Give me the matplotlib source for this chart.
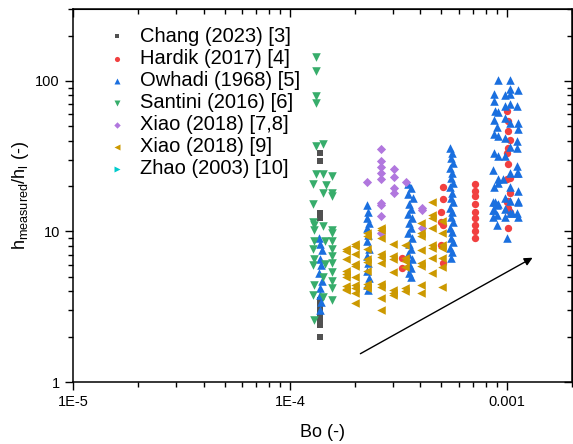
import matplotlib.pyplot as plt
from matplotlib.ticker import FixedLocator, FixedFormatter, LogLocator, NullFormatter

plt.rcParams['font.family'] = ['Liberation Sans', 'DejaVu Sans']
plt.rcParams['mathtext.fontset'] = 'custom'
plt.rcParams['mathtext.rm'] = 'Liberation Sans'

# Chang (2023) [3]
chang_x = [1.37e-4] * 11
chang_y = [33.4, 29.5, 13.2, 12.2, 3.5, 3.2, 3.0, 2.8, 2.57, 2.39, 1.98]

# Hardik (2017) [4]
hardik_x = [3.28e-4, 3.28e-4,
            5.07e-4, 5.07e-4, 5.0e-4, 5.0e-4, 5.07e-4, 5.0e-4, 5.07e-4,
            7.13e-4, 7.13e-4, 7.13e-4, 7.13e-4, 7.13e-4, 7.13e-4, 7.13e-4, 7.13e-4, 7.13e-4,
            1.0e-3, 1.01e-3, 1.01e-3, 1.03e-3, 1.01e-3, 1.0e-3, 1.01e-3, 1.03e-3, 1.03e-3,
            1.01e-3, 1.0e-3, 1.01e-3, 1.03e-3, 1.01e-3, 1.0e-3]
hardik_y = [6.7, 5.7,
            19.6, 16.3, 13.4, 11.5, 11.0, 8.1, 6.2,
            20.5, 18.7, 17.1, 15.3, 13.4, 12.2, 11.0, 10.0, 9.0,
            63.3, 54.3, 46.7, 40.6, 36.0, 33.4, 28.2, 22.8, 18.1,
            16.0, 15.6, 14.4, 13.4, 10.6, 22.4]

# Owhadi (1968) [5]
owhadi_x = [1.36e-4, 1.38e-4, 1.40e-4, 1.37e-4, 1.39e-4, 1.36e-4, 1.40e-4, 1.38e-4, 1.37e-4, 1.39e-4, 1.38e-4,
            2.27e-4, 2.30e-4, 2.27e-4, 2.32e-4, 2.28e-4, 2.30e-4, 2.26e-4, 2.31e-4, 2.28e-4, 2.30e-4,
            2.27e-4, 2.31e-4, 2.28e-4, 2.29e-4,
            3.5e-4, 3.6e-4, 3.5e-4, 3.7e-4, 3.55e-4, 3.6e-4, 3.5e-4, 3.65e-4, 3.55e-4, 3.6e-4,
            3.5e-4, 3.65e-4, 3.55e-4, 3.6e-4, 3.5e-4, 3.65e-4, 3.55e-4, 3.6e-4, 3.55e-4, 3.6e-4,
            5.5e-4, 5.6e-4, 5.55e-4, 5.65e-4, 5.5e-4, 5.6e-4, 5.55e-4, 5.65e-4, 5.5e-4, 5.6e-4,
            5.55e-4, 5.65e-4, 5.5e-4, 5.6e-4, 5.55e-4, 5.65e-4, 5.5e-4, 5.6e-4, 5.55e-4, 5.65e-4,
            5.5e-4, 5.6e-4, 5.55e-4,
            9.10e-4, 1.04e-3, 8.71e-4, 9.79e-4, 1.04e-3, 1.125e-3, 8.71e-4, 1.04e-3, 8.81e-4, 9.10e-4,
            9.79e-4, 1.04e-3, 1.11e-3, 8.71e-4, 9.79e-4, 1.04e-3, 1.125e-3, 9.0e-4, 1.125e-3, 8.71e-4,
            9.10e-4, 9.79e-4, 1.04e-3, 1.11e-3, 1.11e-3, 8.71e-4, 9.10e-4, 9.79e-4, 1.04e-3, 1.11e-3,
            1.11e-3, 8.71e-4, 9.10e-4, 9.79e-4, 1.04e-3, 1.125e-3, 1.125e-3, 8.81e-4, 9.0e-4, 8.71e-4,
            9.79e-4, 1.04e-3, 1.11e-3, 8.61e-4, 9.10e-4, 9.59e-4, 1.125e-3, 8.61e-4, 9.10e-4, 1.03e-3,
            1.125e-3, 8.61e-4, 9.0e-4, 9.79e-4, 1.055e-3, 1.125e-3, 9.0e-4, 1.0e-3, 8.61e-4]
owhadi_y = [9.1, 8.3, 7.5, 6.6, 6.0, 5.3, 4.7, 4.2, 3.8, 3.4, 3.0,
            14.9, 13.4, 12.2, 11.4, 10.5, 9.4, 8.7, 7.7, 6.9, 6.2,
            5.5, 4.9, 4.4, 4.07,
            20.8, 19.3, 17.8, 16.6, 15.3, 14.2, 13.1, 12.2, 11.3, 10.5,
            9.7, 9.0, 8.3, 7.7, 7.1, 6.6, 6.1, 5.7, 5.3, 4.96,
            36.0, 33.4, 30.9, 28.6, 26.5, 24.6, 22.8, 21.1, 19.6, 18.1,
            16.8, 15.6, 14.4, 13.4, 12.4, 11.5, 10.6, 9.85, 9.1, 8.45,
            7.8, 7.3, 6.7,
            101.6, 101.6, 82.0, 80.7, 88.5, 87.2, 73.7, 82.0, 63.3, 62.3,
            68.3, 70.4, 68.3, 55.2, 56.9, 52.7, 52.7, 49.6, 48.1, 44.6,
            43.2, 42.0, 36.6, 40.1, 36.0, 33.4, 31.8, 31.8, 24.6, 27.4,
            24.6, 19.6, 21.1, 16.8, 19.6, 18.7, 15.6, 15.6, 14.9, 13.8,
            14.2, 13.2, 13.2, 25.4, 22.4, 22.4, 24.6, 15.6, 15.3, 16.0,
            16.0, 13.8, 12.8, 12.4, 13.2, 12.4, 11.0, 9.1, 12.4]

# Santini (2016) [6]
santini_x = [1.318e-4, 1.318e-4, 1.318e-4, 1.318e-4, 1.318e-4, 1.42e-4, 1.318e-4, 1.42e-4, 1.563e-4,
             1.283e-4, 1.466e-4, 1.563e-4, 1.563e-4, 1.42e-4, 1.283e-4,
             1.283e-4, 1.289e-4, 1.289e-4, 1.42e-4, 1.563e-4, 1.563e-4, 1.289e-4, 1.45e-4, 1.563e-4,
             1.283e-4, 1.563e-4, 1.289e-4, 1.563e-4, 1.563e-4, 1.45e-4, 1.277e-4, 1.563e-4, 1.42e-4,
             1.289e-4, 1.563e-4, 1.563e-4, 1.277e-4, 1.42e-4, 1.563e-4, 1.289e-4]
santini_y = [144, 116, 79.6, 71.5, 37.1, 38.3, 24.2, 24.2, 23.5,
             20.8, 20.2, 18.1, 17.1, 17.9, 15.3,
             11.6, 11.0, 10.3, 10.8, 10.2, 9.7, 8.7, 8.7, 8.7,
             7.7, 7.7, 6.6, 6.9, 6.2, 6.1, 6.0, 5.35, 5.0,
             4.4, 4.7, 4.2, 3.77, 3.66, 3.49, 2.57]

# Xiao (2018) [7,8]
xiao78_x = [2.26e-4, 2.63e-4, 2.63e-4, 2.63e-4, 2.63e-4, 2.63e-4, 2.63e-4, 2.63e-4, 2.63e-4,
            2.63e-4, 3.01e-4, 3.01e-4, 3.01e-4, 3.01e-4, 3.43e-4, 4.06e-4, 4.06e-4, 4.06e-4]
xiao78_y = [21.4, 35.5, 29.4, 26.6, 24.6, 22.4, 15.5, 14.9, 12.6,
            9.8, 26.0, 23.0, 19.3, 18.1, 21.4, 14.4, 13.9, 10.5]

# Xiao (2018) [9]
xiao9_x = [1.81e-4, 1.81e-4, 1.81e-4, 1.81e-4, 1.81e-4, 1.81e-4, 1.81e-4, 1.81e-4, 1.81e-4,
           1.99e-4, 1.99e-4, 1.99e-4, 1.99e-4, 1.99e-4, 1.99e-4, 1.99e-4, 1.99e-4, 1.99e-4, 1.99e-4,
           2.26e-4, 2.26e-4, 2.26e-4, 2.26e-4, 2.26e-4, 2.26e-4, 2.26e-4, 2.26e-4, 2.26e-4,
           2.63e-4, 2.63e-4, 2.63e-4, 2.63e-4, 2.63e-4, 2.63e-4, 2.63e-4, 2.63e-4, 2.63e-4, 2.63e-4,
           2.98e-4, 2.98e-4, 2.98e-4, 2.98e-4, 2.98e-4, 2.98e-4, 2.98e-4,
           3.39e-4, 3.39e-4, 3.39e-4, 3.39e-4, 3.39e-4, 3.39e-4,
           4.02e-4, 4.02e-4, 4.02e-4, 4.02e-4, 4.02e-4, 4.02e-4, 4.02e-4, 4.02e-4,
           4.51e-4, 4.51e-4, 4.51e-4, 4.51e-4, 4.51e-4, 4.51e-4, 4.51e-4, 4.51e-4,
           5.01e-4, 5.01e-4, 5.01e-4, 5.01e-4, 5.01e-4, 5.01e-4, 5.01e-4]
xiao9_y = [7.7, 7.4, 6.6, 5.5, 5.2, 5.0, 4.32, 4.15, 4.07,
           8.3, 8.0, 7.1, 6.1, 5.9, 5.0, 4.4, 4.2, 3.9, 3.33,
           9.7, 9.3, 7.7, 6.6, 6.3, 5.5, 4.5, 4.3, 4.2,
           10.6, 10.2, 9.0, 7.1, 6.8, 6.2, 4.5, 4.3, 3.6, 3.0,
           8.3, 6.9, 6.6, 5.35, 4.07, 3.9, 3.77,
           8.1, 6.7, 6.4, 5.8, 4.2, 4.0,
           11.3, 9.7, 9.3, 7.5, 6.2, 5.9, 4.4, 3.9,
           15.6, 12.8, 12.3, 10.5, 8.1, 7.8, 6.7, 5.3,
           11.8, 9.8, 8.1, 7.8, 6.7, 5.8, 4.25]

# Zhao (2003) [10] - no points visible in the figure
zhao_x = []
zhao_y = []

# trend arrow (start, end)
arrow_start = (2.06e-4, 1.51)
arrow_end = (1.35e-3, 6.83)

fig = plt.figure(figsize=(5.73, 4.44), dpi=100)
ax = fig.add_axes([0.1274, 0.1396, 0.8709, 0.8401])

ax.scatter(chang_x, chang_y, marker='s', s=16, color='#515151', linewidths=0, label='Chang (2023) [3]')
ax.scatter(hardik_x, hardik_y, marker='o', s=28, color='#F14040', linewidths=0, label='Hardik (2017) [4]')
ax.scatter(owhadi_x, owhadi_y, marker='^', s=38, color='#1A6FDF', linewidths=0, label='Owhadi (1968) [5]')
ax.scatter(santini_x, santini_y, marker='v', s=38, color='#37AD6B', linewidths=0, label='Santini (2016) [6]')
ax.scatter(xiao78_x, xiao78_y, marker='D', s=22, color='#B177DE', linewidths=0, label='Xiao (2018) [7,8]')
ax.scatter(xiao9_x, xiao9_y, marker='<', s=38, color='#CC9900', linewidths=0, label='Xiao (2018) [9]')
ax.scatter(zhao_x, zhao_y, marker='>', s=38, color='#00CBCC', linewidths=0, label='Zhao (2003) [10]')

ax.annotate('', xy=arrow_end, xytext=arrow_start,
            arrowprops=dict(arrowstyle='-|>', color='black', lw=1.0, mutation_scale=12))

ax.set_xscale('log')
ax.set_yscale('log')
ax.set_xlim(1e-5, 2e-3)
ax.set_ylim(1, 300)

ax.xaxis.set_major_locator(FixedLocator([1e-5, 1e-4, 1e-3]))
ax.xaxis.set_major_formatter(FixedFormatter(['1E-5', '1E-4', '0.001']))
ax.yaxis.set_major_locator(FixedLocator([1, 10, 100]))
ax.yaxis.set_major_formatter(FixedFormatter(['1', '10', '100']))
ax.xaxis.set_minor_locator(LogLocator(base=10, subs=range(2, 10), numticks=20))
ax.yaxis.set_minor_locator(LogLocator(base=10, subs=range(2, 10), numticks=20))
ax.xaxis.set_minor_formatter(NullFormatter())
ax.yaxis.set_minor_formatter(NullFormatter())

ax.tick_params(which='both', direction='out', top=False, right=False, labelsize=10.5, width=1)
ax.tick_params(which='major', length=6)
ax.tick_params(which='minor', length=3.5)
ax2 = ax.secondary_xaxis('top')
ax2.set_xticks([1e-5, 1e-4, 1e-3])
ax2.xaxis.set_minor_locator(LogLocator(base=10, subs=range(2, 10), numticks=20))
ax2.tick_params(which='both', direction='in', labeltop=False, width=1)
ax2.tick_params(which='major', length=6)
ax2.tick_params(which='minor', length=3.5)
ax3 = ax.secondary_yaxis('right')
ax3.set_yticks([1, 10, 100])
ax3.yaxis.set_minor_locator(LogLocator(base=10, subs=range(2, 10), numticks=20))
ax3.tick_params(which='both', direction='in', labelright=False, width=1)
ax3.tick_params(which='major', length=6)
ax3.tick_params(which='minor', length=3.5)
for sp in ax.spines.values():
    sp.set_linewidth(1.1)

ax.set_xlabel('Bo (-)', fontsize=13, labelpad=11)
ax.set_ylabel(r'h$_{\mathregular{measured}}$/h$_{\mathregular{l}}$ (-)', fontsize=13, labelpad=3)

ax.legend(loc='upper left', bbox_to_anchor=(0.035, 0.974), frameon=False, fontsize=14.5,
          labelspacing=0.15, handletextpad=0.25, markerscale=0.7, borderaxespad=0,
          handlelength=1.8)

fig.savefig('out.png', dpi=100)
